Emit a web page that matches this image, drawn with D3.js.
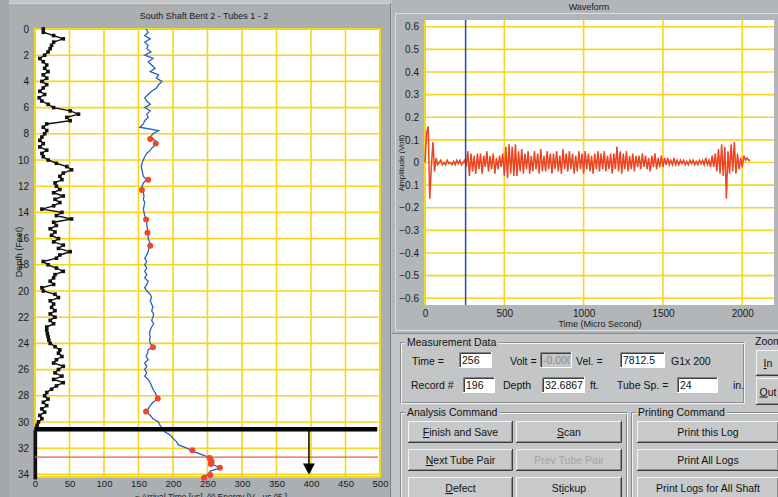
<!DOCTYPE html>
<html><head><meta charset="utf-8">
<script src="https://cdn.jsdelivr.net/npm/d3@7"></script>
<style>
html,body{margin:0;padding:0;background:#c2c4c6;overflow:hidden}
svg{display:block;font-family:"Liberation Sans",Arial,sans-serif}
</style></head><body>
<svg id="c" width="778" height="497"></svg>
<script>
// ---------------- DATA ----------------
const leftTitle = "South Shaft Bent 2 - Tubes 1 - 2";
const rightTitle = "Waveform";
const depthStep = 0.25; // ft between log samples
const depthTicks = [0,2,4,6,8,10,12,14,16,18,20,22,24,26,28,30,32,34];
const valueTicks = [0,50,100,150,200,250,300,350,400,450,500];
// Energy (black) per sample
const energy = [
 12,12,27,41,27,24,22,19,14,7,12,17,
 14,19,12,17,10,17,12,7,14,6,10,19,
 27,51,63,46,51,17,12,17,14,10,7,12,
 7,17,10,12,19,31,46,53,41,36,39,29,
 31,36,27,41,29,36,27,10,39,31,53,27,
 31,22,29,24,34,27,41,34,51,36,31,12,
 19,31,41,29,27,22,27,10,12,29,34,22,
 27,24,29,22,29,22,27,17,17,18,19,20,
 22,29,36,34,39,31,27,41,34,29,39,27,
 41,31,24,17,14,19,12,17,10,14,7,10,
 5,3,1.5,0.5,0.5,0.5,0.5,0.5,0.5,0.5,0.5,0.5,
 0.5,0.5,0.5,0.5,0.5,0.5
];
// First arrival time (blue) per sample
const arrival = [
 161,164,159,167,159,164,162,168,159,171,164,169,
 174,167,179,176,184,179,176,169,164,159,162,167,
 159,167,162,164,159,157,152,179,171,167,174,175,
 171,167,162,159,157,155,154,155,156,157,162,157,
 155,156,157,158,157,159,158,157,158,159,161,162,
 162,163,163,164,164,166,167,165,164,162,159,162,
 159,162,159,162,159,164,162,159,162,167,169,167,
 169,171,169,172,171,169,172,169,167,166,167,166,
 167,171,164,163,161,164,159,162,159,162,159,164,
 167,169,171,174,176,178,171,167,164,162,167,171,
 179,181,185,188,196,200,205,208,220,229,242,254,
 256,258,268,254,251,244
];
// Flagged (red) points
const flagDepth = [8.4,8.75,11.5,12.3,14.55,15.55,16.55,24.3,28.2,29.2,32.15,32.75,32.9,33.05,33.2,33.5,34.05,34.25];
const flagTime  = [167,175,164,155,161,163,167,171,178,161,228,253,255,256,255,268,254,245];
const defectDepth = 30.55;   // thick black line
const arrowValue = 397;      // arrow position
const arrowEndDepth = 34.0;
const currentDepth = 32.6867;

// Waveform
const waveStep = 10; // micro seconds between samples
const waveAmp = [
 0.0,0.13,0.16,-0.16,-0.02,0.09,-0.04,0.02,-0.01,0.0,
 0.01,-0.01,0.0,-0.01,0.01,-0.005,0.0,-0.01,0.005,-0.01,
 0.01,-0.005,0.01,-0.01,0.0,0.01,-0.02,0.05,-0.06,0.04,
 -0.04,0.03,-0.05,0.04,-0.03,0.04,-0.05,0.03,-0.02,0.05,
 -0.04,0.03,-0.03,0.04,-0.05,0.02,-0.03,0.03,-0.02,0.04,
 -0.06,0.07,-0.07,0.08,-0.05,0.07,-0.06,0.08,-0.06,0.05,
 -0.04,0.06,-0.05,0.04,-0.03,0.05,-0.05,0.03,-0.04,0.05,
 -0.03,0.04,-0.05,0.06,-0.04,0.03,-0.04,0.05,-0.03,0.04,
 -0.05,0.04,-0.03,0.05,-0.04,0.03,-0.05,0.06,-0.03,0.04,
 -0.04,0.05,-0.03,0.04,-0.05,0.03,-0.04,0.05,-0.03,0.04,
 -0.05,0.05,-0.03,0.04,-0.04,0.03,-0.05,0.04,-0.03,0.05,
 -0.04,0.04,-0.03,0.05,-0.04,0.03,-0.03,0.04,-0.05,0.04,
 -0.03,0.07,-0.04,0.05,-0.05,0.04,-0.03,0.05,-0.04,0.03,
 -0.03,0.04,-0.04,0.03,-0.02,0.03,-0.03,0.04,-0.02,0.03,
 -0.03,0.02,-0.04,0.03,-0.02,0.04,-0.03,0.02,-0.02,0.03,
 -0.02,0.02,-0.01,0.02,-0.01,0.01,-0.01,0.02,-0.01,0.01,
 -0.01,0.01,-0.005,0.01,-0.01,0.005,-0.01,0.01,-0.005,0.01,
 -0.01,0.005,-0.01,0.01,-0.005,0.01,-0.01,0.02,-0.01,0.01,
 -0.02,0.03,-0.02,0.04,-0.04,0.06,-0.05,0.08,-0.06,0.07,
 -0.16,0.05,-0.05,0.08,-0.04,0.09,-0.05,0.04,-0.03,0.02,
 -0.02,0.03,0.01,0.02,0.01,0.01
];
const ampTicks = [0.6,0.5,0.4,0.3,0.2,0.1,0,-0.1,-0.2,-0.3,-0.4,-0.5,-0.6];
const timeTicks = [0,500,1000,1500,2000];
const cursorTime = 256;

// ---------------- DRAW ----------------
const svg = d3.select('#c');
const GRID = '#f6d51e';
const FONT = '"Liberation Sans",Arial,sans-serif';

svg.append('rect').attr('width',778).attr('height',497).attr('fill','#c4c5c6');
svg.append('rect').attr('x',0).attr('y',0).attr('width',9).attr('height',497).attr('fill','#a3a7aa');
// left panel
svg.append('rect').attr('x',9).attr('y',3).attr('width',381).attr('height',494).attr('fill','#abafb2');
svg.append('line').attr('x1',9).attr('x2',390).attr('y1',3.5).attr('y2',3.5).attr('stroke','#d6d8da');
svg.append('line').attr('x1',390.5).attr('x2',390.5).attr('y1',3).attr('y2',497).attr('stroke','#7d8184');
// right chart panel
svg.append('rect').attr('x',392).attr('y',0).attr('width',386).attr('height',333).attr('fill','#b3b6b9');
svg.append('rect').attr('x',395.5).attr('y',13.5).attr('width',384).attr('height',317).attr('fill','none').attr('stroke','#dcdedf');
svg.append('line').attr('x1',392).attr('x2',778).attr('y1',333.5).attr('y2',333.5).attr('stroke','#8a8d90');

// ===== LEFT CHART =====
const xL = d3.scaleLinear().domain([0,500]).range([35,380]);
const yL = d3.scaleLinear().domain([0,34.2]).range([29,477]);
const gL = svg.append('g');
gL.append('rect').attr('x',xL(0)).attr('y',yL(0)).attr('width',xL(500)-xL(0)).attr('height',yL(34.2)-yL(0)).attr('fill','#ffffff');
gL.selectAll('line.vg').data(valueTicks).join('line')
  .attr('x1',d=>xL(d)).attr('x2',d=>xL(d)).attr('y1',yL(0)).attr('y2',yL(34.2))
  .attr('stroke',GRID).attr('stroke-width',1.6);
gL.selectAll('line.hg').data(depthTicks).join('line')
  .attr('x1',xL(0)).attr('x2',xL(500)).attr('y1',d=>yL(d)).attr('y2',d=>yL(d))
  .attr('stroke',GRID).attr('stroke-width',1.6);
gL.append('rect').attr('x',xL(0)).attr('y',yL(0)).attr('width',xL(500)-xL(0)).attr('height',yL(34.2)-yL(0))
  .attr('fill','none').attr('stroke',GRID).attr('stroke-width',2);

// axes labels (via d3 axes)
const axL = gL.append('g').attr('transform',`translate(${xL(0)-3},0)`)
  .call(d3.axisLeft(yL).tickValues(depthTicks).tickSize(0).tickFormat(d3.format('d')));
axL.select('.domain').remove();
axL.selectAll('text').attr('font-size',10).attr('font-family',FONT).attr('fill','#1a1a1a');
const axB = gL.append('g').attr('transform',`translate(0,${yL(34.2)})`)
  .call(d3.axisBottom(xL).tickValues(valueTicks).tickSize(0).tickFormat(d3.format('d')));
axB.select('.domain').remove();
axB.selectAll('text').attr('font-size',9.5).attr('font-family',FONT).attr('fill','#1a1a1a');

svg.append('text').attr('x',204).attr('y',19).attr('text-anchor','middle').attr('font-size',9)
  .attr('fill','#1a1a1a').text(leftTitle);
svg.append('text').attr('transform','translate(22,252) rotate(-90)').attr('text-anchor','middle')
  .attr('font-size',9).attr('fill','#1a1a1a').text('Depth (Feet)');
svg.append('text').attr('x',211).attr('y',500).attr('text-anchor','middle').attr('font-size',8.5)
  .attr('fill','#1a1a1a').text('~ Arrival Time [us], ^^ Energy [V - us ^5 ]');

// energy line
const lineE = d3.line().x(d=>xL(d)).y((d,i)=>yL(i*depthStep));
gL.append('path').datum(energy).attr('d',lineE).attr('fill','none').attr('stroke','#111').attr('stroke-width',1.4);
gL.selectAll('rect.mk').data(energy).join('rect')
  .attr('x',d=>xL(d)-1.8).attr('y',(d,i)=>yL(i*depthStep)-1.8).attr('width',3.6).attr('height',3.6).attr('fill','#111');

// arrival line
const lineA = d3.line().x(d=>xL(d)).y((d,i)=>yL(i*depthStep));
gL.append('path').datum(arrival).attr('d',lineA).attr('fill','none').attr('stroke','#2b5fc4').attr('stroke-width',1.3);

// current depth red line
gL.append('line').attr('x1',xL(0)).attr('x2',xL(500)-2).attr('y1',yL(currentDepth)).attr('y2',yL(currentDepth))
  .attr('stroke','#f0584a').attr('stroke-width',1.2);

// flagged points
gL.selectAll('circle.fl').data(flagDepth).join('circle')
  .attr('cx',(d,i)=>xL(flagTime[i])).attr('cy',d=>yL(d)).attr('r',3).attr('fill','#f2452a');

// defect line + arrow
gL.append('line').attr('x1',xL(0)).attr('x2',xL(496)).attr('y1',yL(defectDepth)).attr('y2',yL(defectDepth))
  .attr('stroke','#000').attr('stroke-width',4.5);
gL.append('line').attr('x1',xL(arrowValue)).attr('x2',xL(arrowValue)).attr('y1',yL(defectDepth)).attr('y2',yL(arrowEndDepth)-8)
  .attr('stroke','#000').attr('stroke-width',1.5);
const ax = xL(arrowValue), ay = yL(arrowEndDepth);
gL.append('path').attr('d',`M${ax-6},${ay-11}L${ax+6},${ay-11}L${ax},${ay}Z`).attr('fill','#000');

// ===== RIGHT CHART =====
const xR = d3.scaleLinear().domain([0,2200]).range([425,774]);
const yR = d3.scaleLinear().domain([-0.63,0.63]).range([305,20]);
const gR = svg.append('g');
gR.append('rect').attr('x',xR(0)).attr('y',yR(0.63)).attr('width',xR(2200)-xR(0)).attr('height',yR(-0.63)-yR(0.63)).attr('fill','#fff');
gR.selectAll('line.hg').data(ampTicks).join('line')
  .attr('x1',xR(0)).attr('x2',xR(2200)).attr('y1',d=>yR(d)).attr('y2',d=>yR(d))
  .attr('stroke',GRID).attr('stroke-width',1.6);
gR.selectAll('line.vg').data(timeTicks).join('line')
  .attr('x1',d=>xR(d)).attr('x2',d=>xR(d)).attr('y1',yR(0.63)).attr('y2',yR(-0.63))
  .attr('stroke',GRID).attr('stroke-width',d=>d===0?2:1.6);

const axR = gR.append('g').attr('transform',`translate(${xR(0)-3},0)`)
  .call(d3.axisLeft(yR).tickValues(ampTicks).tickSize(0).tickFormat(d=>d===0?'0':d3.format('.1f')(d)));
axR.select('.domain').remove();
axR.selectAll('text').attr('font-size',10).attr('font-family',FONT).attr('fill','#1a1a1a');
const axRB = gR.append('g').attr('transform',`translate(0,${yR(-0.63)+2})`)
  .call(d3.axisBottom(xR).tickValues(timeTicks).tickSize(0).tickFormat(d3.format('d')));
axRB.select('.domain').remove();
axRB.selectAll('text').attr('font-size',10).attr('font-family',FONT).attr('fill','#1a1a1a');

svg.append('text').attr('x',589).attr('y',10).attr('text-anchor','middle').attr('font-size',9).attr('fill','#1a1a1a').text(rightTitle);
svg.append('text').attr('x',600).attr('y',327).attr('text-anchor','middle').attr('font-size',9).attr('fill','#1a1a1a').text('Time (Micro Second)');
svg.append('text').attr('transform','translate(404,163) rotate(-90)').attr('text-anchor','middle')
  .attr('font-size',8).attr('fill','#1a1a1a').text('Amplitude (Volt)');

const lineW = d3.line().x((d,i)=>xR(i*waveStep)).y(d=>yR(d));
gR.append('path').datum(waveAmp).attr('d',lineW).attr('fill','none').attr('stroke','#ec4423').attr('stroke-width',1.5);
gR.append('line').attr('x1',xR(cursorTime)).attr('x2',xR(cursorTime)).attr('y1',yR(0.63)).attr('y2',yR(-0.63))
  .attr('stroke','#1e4fa8').attr('stroke-width',1.5);

// ===== CONTROLS =====
const ctl = svg.append('g').attr('font-size',10.5).attr('font-family',FONT);
function group(x,y,w,h,label){
  ctl.append('rect').attr('x',x+0.5).attr('y',y+0.5).attr('width',w).attr('height',h).attr('fill','none').attr('stroke','#8c8c8c');
  ctl.append('rect').attr('x',x+1.5).attr('y',y+1.5).attr('width',w).attr('height',h).attr('fill','none').attr('stroke','#f2f2f2');
  const t = ctl.append('text').attr('x',x+7).attr('y',y+4).attr('fill','#111').text(label);
  const bb = t.node().getBBox();
  ctl.insert('rect','text:last-of-type').attr('x',bb.x-2).attr('y',bb.y).attr('width',bb.width+4).attr('height',bb.height).attr('fill','#c4c5c6');
  t.raise();
}
function label(x,y,s){ ctl.append('text').attr('x',x).attr('y',y).attr('fill','#111').text(s); }
function tbox(x,y,w,h,val,disabled){
  ctl.append('rect').attr('x',x).attr('y',y).attr('width',w).attr('height',h).attr('fill',disabled?'#c4c5c6':'#fff');
  ctl.append('path').attr('d',`M${x+0.5},${y+h}V${y+0.5}H${x+w}`).attr('fill','none').attr('stroke','#808080');
  ctl.append('path').attr('d',`M${x+1.5},${y+h-1}V${y+1.5}H${x+w-1}`).attr('fill','none').attr('stroke','#404040');
  ctl.append('path').attr('d',`M${x},${y+h-0.5}H${x+w-0.5}V${y}`).attr('fill','none').attr('stroke','#fff');
  const cid = 'clip'+Math.round(x)+'_'+Math.round(y);
  ctl.append('clipPath').attr('id',cid).append('rect').attr('x',x+2).attr('y',y+2).attr('width',w-4).attr('height',h-4);
  ctl.append('text').attr('x',x+3).attr('y',y+h-4).attr('fill',disabled?'#8a8a8a':'#111').attr('clip-path',`url(#${cid})`).text(val);
}
function button(x,y,w,h,txt,ul,disabled){
  ctl.append('rect').attr('x',x).attr('y',y).attr('width',w).attr('height',h).attr('fill','#c8c9ca');
  ctl.append('path').attr('d',`M${x+0.5},${y+h}V${y+0.5}H${x+w}`).attr('fill','none').attr('stroke','#f4f4f4');
  ctl.append('path').attr('d',`M${x},${y+h-0.5}H${x+w-0.5}V${y}`).attr('fill','none').attr('stroke','#3c3c3c');
  ctl.append('path').attr('d',`M${x+1},${y+h-1.5}H${x+w-1.5}V${y+1}`).attr('fill','none').attr('stroke','#8a8a8a');
  const t = ctl.append('text').attr('x',x+w/2).attr('y',y+h/2+4).attr('text-anchor','middle')
    .attr('fill',disabled?'#a4a4a4':'#111');
  if (ul>=0){
    t.append('tspan').text(txt.slice(0,ul));
    t.append('tspan').attr('text-decoration','underline').text(txt[ul]);
    t.append('tspan').text(txt.slice(ul+1));
  } else t.text(txt);
}

group(400,342,343,60,'Measurement Data');
label(412,365,'Time ='); tbox(459,352,33,16,'256');
label(510,365,'Volt ='); tbox(540,352,32,16,'-0.000',true);
label(576,365,'Vel. ='); tbox(620,352,45,16,'7812.5');
label(671,365,'G1x  200');
label(411,389,'Record #'); tbox(463,377,32,16,'196');
label(503,389,'Depth'); tbox(542,377,43,16,'32.6867');
label(590,389,'ft.'); label(617,389,'Tube Sp. ='); tbox(677,377,41,16,'24');
label(733,389,'in.');

label(755,345,'Zoom');
button(756,350,24,26,'In',0);
button(756,378,24,27,'Out',0);

group(400,412,226,90,'Analysis Command');
button(408,421,105,22,'Finish and Save',0);
button(516,421,106,22,'Scan',0);
button(408,449,105,22,'Next Tube Pair',0);
button(516,449,106,22,'Prev Tube Pair',-1,true);
button(408,477,105,22,'Defect',0);
button(516,477,106,22,'Stickup',2);

group(631,412,160,90,'Printing Command');
button(637,421,142,22,'Print this Log',-1);
button(637,449,142,22,'Print All Logs',-1);
button(637,477,142,22,'Print Logs for All Shaft',-1);
</script>
</body></html>
